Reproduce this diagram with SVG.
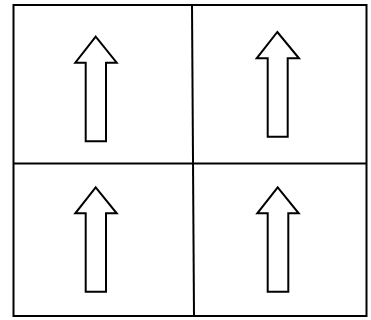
<svg xmlns="http://www.w3.org/2000/svg" width="371" height="320" viewBox="0 0 371 320">
<style>
.frame{fill:#fff;stroke:#000;stroke-width:2}
.div{stroke:#000;stroke-width:2;fill:none}
.arrow{fill:#fff;stroke:#000;stroke-width:2;stroke-linejoin:miter}
</style>
<rect width="371" height="320" fill="#fff"/>
<rect class="frame" x="13.5" y="5" width="353" height="311"/>
<g id="dividers">
<line class="div" x1="192" y1="5" x2="194" y2="316"/>
<line class="div" x1="13.5" y1="163.5" x2="366.5" y2="163.5"/>
</g>
<g id="cell-top-left">
<polygon class="arrow" points="95.7,36.7 116.7,62.7 106,62.7 106,141.3 85.7,141.3 85.7,62.7 75.3,62.7"/>
</g>
<g id="cell-top-right">
<polygon class="arrow" points="277.3,32 299,58.3 287.7,58.3 287.7,136.7 267.7,136.7 267.7,58.3 256.7,58.3"/>
</g>
<g id="cell-bottom-left">
<polygon class="arrow" points="95.7,187.3 116.7,213.3 106,213.3 106,291.7 85.7,291.7 85.7,213.3 75.3,213.3"/>
</g>
<g id="cell-bottom-right">
<polygon class="arrow" points="277.7,187.3 298.7,213.3 288.3,213.3 288.3,291.7 267.7,291.7 267.7,213.3 257.3,213.3"/>
</g>
</svg>
